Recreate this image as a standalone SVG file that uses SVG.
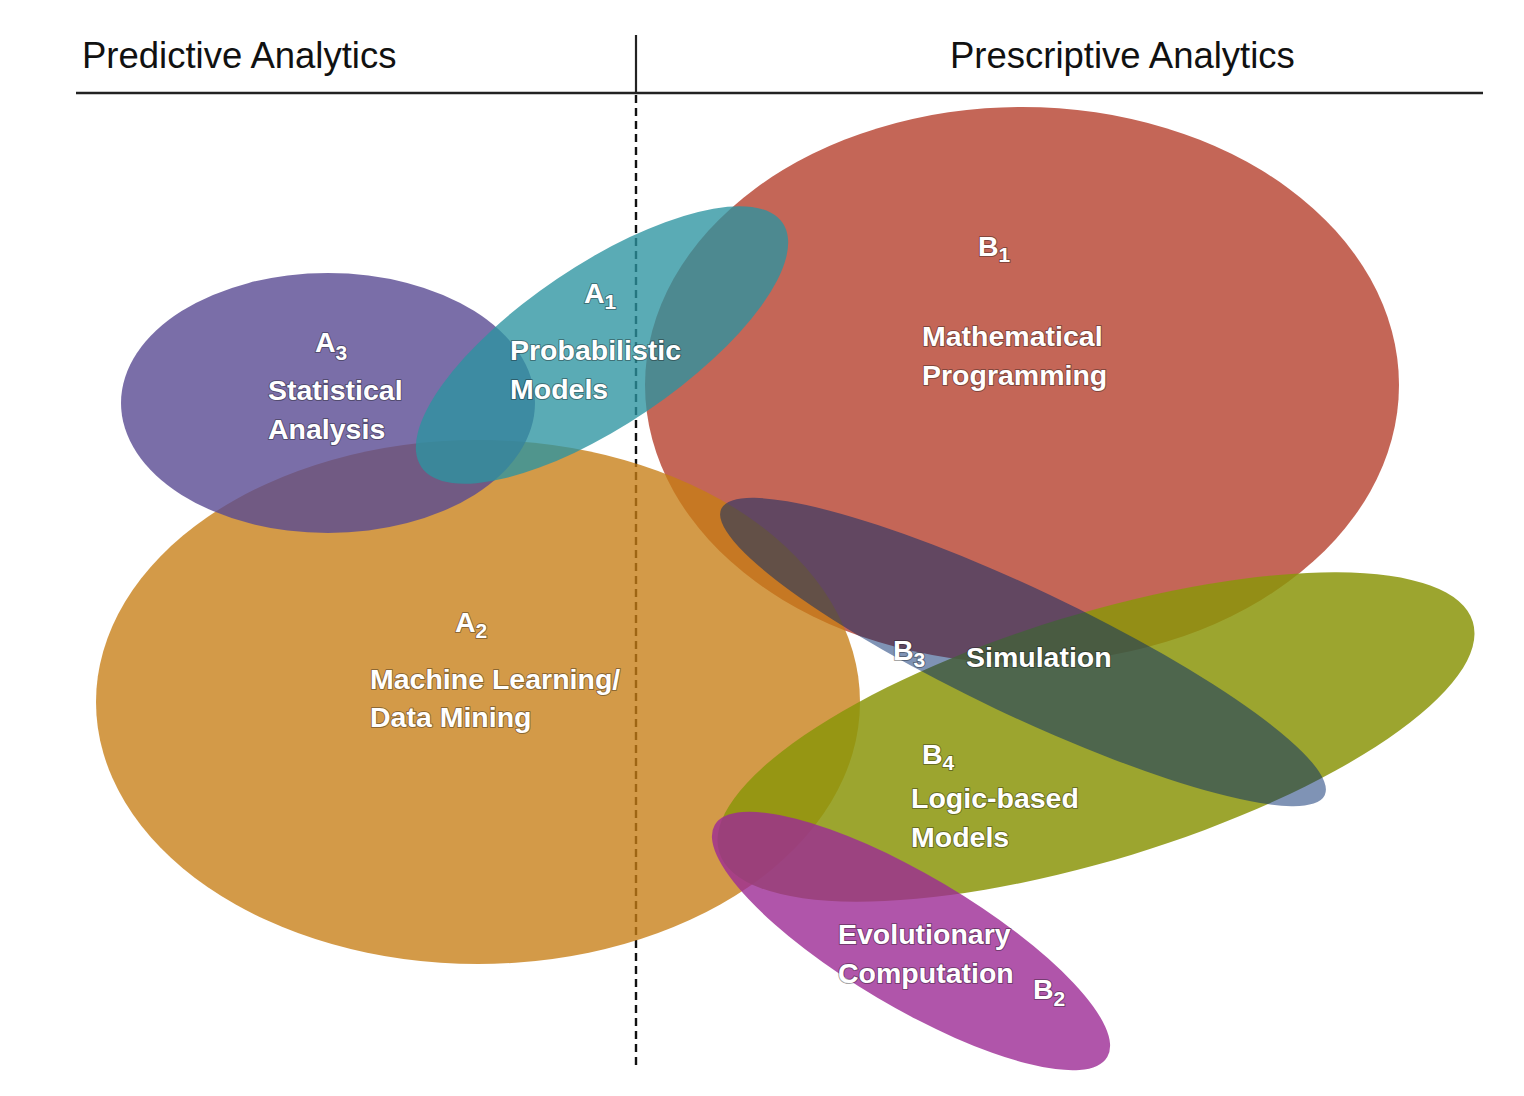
<svg xmlns="http://www.w3.org/2000/svg" width="1524" height="1096" viewBox="0 0 1524 1096">
<style>
.hdr{font-family:"Liberation Sans",Arial,sans-serif;font-size:36.5px;fill:#111}
.lbl{font-family:"Liberation Sans",Arial,sans-serif;font-size:28.5px;font-weight:bold;fill:#fff;stroke:rgba(20,20,20,0.4);stroke-width:2px;paint-order:stroke;stroke-linejoin:round}
.sub{font-size:21px}
</style>
<rect width="1524" height="1096" fill="#fff"/>
<g id="axes">
<line x1="76" y1="93" x2="1483" y2="93" stroke="#222" stroke-width="2.5"/>
<line x1="636" y1="35" x2="636" y2="93" stroke="#222" stroke-width="2.2"/>
<line x1="636" y1="95" x2="636" y2="1070" stroke="#111" stroke-width="2.4" stroke-dasharray="8 5"/>
<text class="hdr" x="82" y="68">Predictive Analytics</text>
<text class="hdr" x="950" y="68">Prescriptive Analytics</text>
</g>
<g id="connectors"></g>
<g id="B1"><ellipse cx="1022" cy="385" rx="377" ry="278" fill="#C46657"/></g>
<g id="A2"><ellipse cx="478" cy="702" rx="382" ry="262" fill="rgb(198,126,20)" fill-opacity="0.78"/></g>
<g id="A3"><ellipse cx="328" cy="403" rx="207" ry="130" fill="rgb(89,74,146)" fill-opacity="0.8"/></g>
<g id="A1"><ellipse cx="602" cy="345" rx="218" ry="80" transform="rotate(-34 602 345)" fill="rgb(43,147,160)" fill-opacity="0.78"/></g>
<g id="B4"><ellipse cx="1096" cy="737" rx="394" ry="123" transform="rotate(-17 1096 737)" fill="rgb(139,149,11)" fill-opacity="0.85"/></g>
<g id="B3"><ellipse cx="1023" cy="652" rx="334" ry="63" transform="rotate(25.4 1023 652)" fill="rgb(0,40,107)" fill-opacity="0.5"/></g>
<g id="B2"><ellipse cx="911" cy="941" rx="228" ry="66" transform="rotate(30.6 911 941)" fill="rgb(156,42,149)" fill-opacity="0.8"/></g>
<g id="labels">
<text class="lbl" x="315" y="352">A<tspan class="sub" dy="8">3</tspan></text>
<text class="lbl" x="268" y="400">Statistical</text>
<text class="lbl" x="268" y="439">Analysis</text>
<text class="lbl" x="584" y="303">A<tspan class="sub" dy="6">1</tspan></text>
<text class="lbl" x="510" y="360">Probabilistic</text>
<text class="lbl" x="510" y="399">Models</text>
<text class="lbl" x="978" y="256">B<tspan class="sub" dy="6">1</tspan></text>
<text class="lbl" x="922" y="346">Mathematical</text>
<text class="lbl" x="922" y="385">Programming</text>
<text class="lbl" x="455" y="632">A<tspan class="sub" dy="6">2</tspan></text>
<text class="lbl" x="370" y="689">Machine Learning/</text>
<text class="lbl" x="370" y="727">Data Mining</text>
<text class="lbl" x="893" y="660">B<tspan class="sub" dy="7">3</tspan></text>
<text class="lbl" x="966" y="667">Simulation</text>
<text class="lbl" x="922" y="764">B<tspan class="sub" dy="6">4</tspan></text>
<text class="lbl" x="911" y="808">Logic-based</text>
<text class="lbl" x="911" y="847">Models</text>
<text class="lbl" x="838" y="944">Evolutionary</text>
<text class="lbl" x="838" y="983">Computation</text>
<text class="lbl" x="1033" y="999">B<tspan class="sub" dy="7">2</tspan></text>
</g>
</svg>
